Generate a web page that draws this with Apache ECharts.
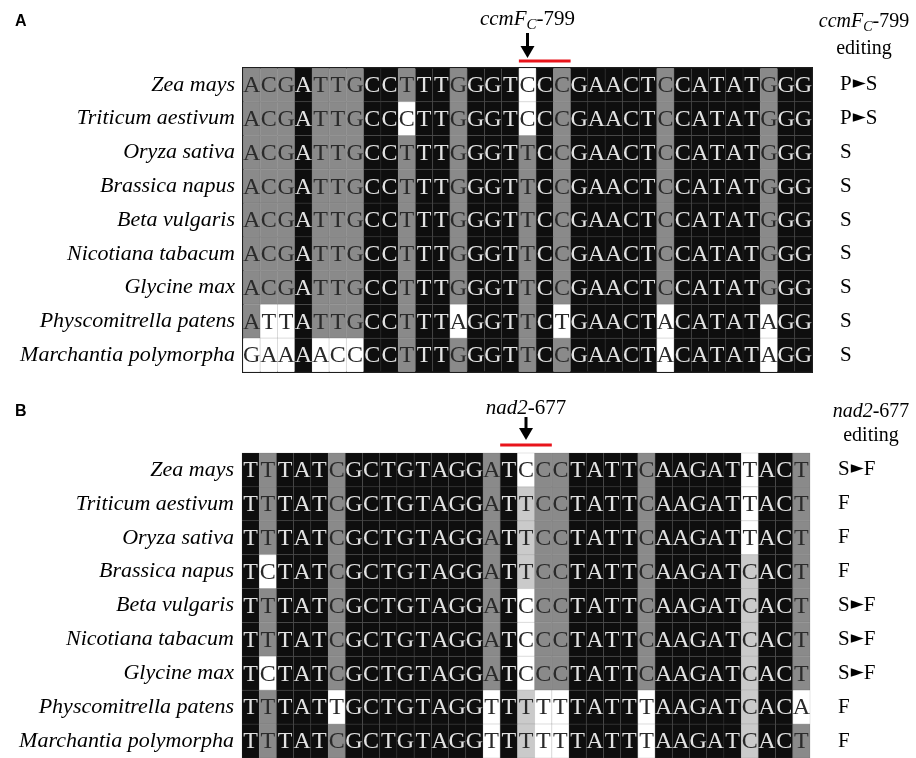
<!DOCTYPE html>
<html><head><meta charset="utf-8">
<script src="https://cdn.jsdelivr.net/npm/echarts@6/dist/echarts.min.js"></script>
<style>html,body{margin:0;padding:0;background:#fff}#c{width:916px;height:758px}</style>
</head><body><div id="c"></div>
<script>
// ---------- data ----------
const species = ['Zea mays','Triticum aestivum','Oryza sativa','Brassica napus','Beta vulgaris','Nicotiana tabacum','Glycine max','Physcomitrella patens','Marchantia polymorpha'];
const columns = [1,2,3,4,5,6,7,8,9,10,11,12,13,14,15,16,17,18,19,20,21,22,23,24,25,26,27,28,29,30,31,32,33];

// Panel A: ccmFc-799
const seqA = [
  'ACGATTGCCTTTGGGTCCCGAACTCCATATGGG',
  'ACGATTGCCCTTGGGTCCCGAACTCCATATGGG',
  'ACGATTGCCTTTGGGTTCCGAACTCCATATGGG',
  'ACGATTGCCTTTGGGTTCCGAACTCCATATGGG',
  'ACGATTGCCTTTGGGTTCCGAACTCCATATGGG',
  'ACGATTGCCTTTGGGTTCCGAACTCCATATGGG',
  'ACGATTGCCTTTGGGTTCCGAACTCCATATGGG',
  'ATTATTGCCTTTAGGTTCTGAACTACATATAGG',
  'GAAAACCCCTTTGGGTTCCGAACTACATATAGG'
];
// shading: k = black, g = grey, l = light grey, w = white
const shadeA = [
  'gggkgggkkgkkgkkkwkgkkkkkgkkkkkgkk',
  'gggkgggkkwkkgkkkwkgkkkkkgkkkkkgkk',
  'gggkgggkkgkkgkkkgkgkkkkkgkkkkkgkk',
  'gggkgggkkgkkgkkkgkgkkkkkgkkkkkgkk',
  'gggkgggkkgkkgkkkgkgkkkkkgkkkkkgkk',
  'gggkgggkkgkkgkkkgkgkkkkkgkkkkkgkk',
  'gggkgggkkgkkgkkkgkgkkkkkgkkkkkgkk',
  'gwwkgggkkgkkwkkkgkwkkkkkwkkkkkwkk',
  'wwwkwwwkkgkkgkkkgkgkkkkkwkkkkkwkk'
];
const editA = ['P>S','P>S','S','S','S','S','S','S','S'];

// Panel B: nad2-677
const seqB = [
  'TTTATCGCTGTAGGATCCCTATTCAAGATTACT',
  'TTTATCGCTGTAGGATTCCTATTCAAGATTACT',
  'TTTATCGCTGTAGGATTCCTATTCAAGATTACT',
  'TCTATCGCTGTAGGATTCCTATTCAAGATCACT',
  'TTTATCGCTGTAGGATCCCTATTCAAGATCACT',
  'TTTATCGCTGTAGGATCCCTATTCAAGATCACT',
  'TCTATCGCTGTAGGATCCCTATTCAAGATCACT',
  'TTTATTGCTGTAGGTTTTTTATTTAAGATCACA',
  'TTTATCGCTGTAGGTTTTTTATTTAAGATCACT'
];
const shadeB = [
  'kgkkkgkkkkkkkkgkwggkkkkgkkkkkwkkg',
  'kgkkkgkkkkkkkkgklggkkkkgkkkkkwkkg',
  'kgkkkgkkkkkkkkgklggkkkkgkkkkkwkkg',
  'kwkkkgkkkkkkkkgklggkkkkgkkkkklkkg',
  'kgkkkgkkkkkkkkgkwggkkkkgkkkkklkkg',
  'kgkkkgkkkkkkkkgkwggkkkkgkkkkklkkg',
  'kwkkkgkkkkkkkkgkwggkkkkgkkkkklkkg',
  'kgkkkwkkkkkkkkwklwwkkkkwkkkkklkkw',
  'kgkkkgkkkkkkkkwklwwkkkkwkkkkklkkg'
];
const editB = ['S>F','F','F','F','S>F','S>F','S>F','F','F'];

// editing-site annotation: arrow column index and red bar (column range)
const siteA = {arrowCol: 16, bar: [16, 18]};
const siteB = {arrowCol: 16, bar: [15, 17]};

// ---------- rendering ----------
const FILL = {k:'#0e0e0e', g:'#8a8a8a', l:'#cacaca', w:'#ffffff'};
const TXT  = {k:'#e2e2e2', g:'#2a2a2a', l:'#2a2a2a', w:'#2a2a2a'};
const SERIF = '"Liberation Serif","Times New Roman",serif';

function cellData(seqs){
  const d = [];
  seqs.forEach((s, r) => { for (let c = 0; c < s.length; c++) d.push([c, r]); });
  return d;
}
function cellRenderer(seqs, shades){
  return function(params, api){
    const c = api.value(0), r = api.value(1);
    const p = api.coord([c, r]);
    const s = api.size([1, 1]);
    const code = shades[r][c];
    return {type:'group', children:[
      {type:'rect', shape:{x:p[0]-s[0]/2, y:p[1]-s[1]/2, width:s[0], height:s[1]},
       style:{fill:FILL[code], stroke:'rgba(90,90,90,0.25)', lineWidth:0.6}},
      {type:'text', x:p[0], y:p[1]+1,
       style:{text:seqs[r][c], fill:TXT[code], font:'24px '+SERIF,
              align:'center', verticalAlign:'middle', textAlign:'center', textVerticalAlign:'middle'}}
    ]};
  };
}
// g = geometry offsets relative to the top edge of the first row
function siteRenderer(site, titleRich, g){
  return function(params, api){
    const p = api.coord([site.arrowCol, 0]);
    const s = api.size([1, 1]);
    const top = p[1] - s[1]/2;
    const b0 = api.coord([site.bar[0], 0])[0] - s[0]/2;
    const b1 = api.coord([site.bar[1], 0])[0] + s[0]/2;
    const x = p[0];
    return {type:'group', children:[
      {type:'line', shape:{x1:b0, y1:top-g.bar, x2:b1, y2:top-g.bar}, style:{stroke:'#e8141b', lineWidth:3}},
      {type:'rect', shape:{x:x-1.5, y:top-g.arrowTop, width:3, height:g.arrowTop-g.tip-10}, style:{fill:'#000'}},
      {type:'polygon', shape:{points:[[x-7,top-g.tip-12],[x+7,top-g.tip-12],[x,top-g.tip]]}, style:{fill:'#000'}},
      {type:'text', x:x, y:top-g.title, style:Object.assign({align:'center', verticalAlign:'middle', textAlign:'center', textVerticalAlign:'middle'}, titleRich)}
    ]};
  };
}
const headRichA = {
  text:'{i|ccmF}{s|C}{n|-799}',
  rich:{ i:{font:'italic 21px '+SERIF, fill:'#000', lineHeight:26},
         s:{font:'italic 15px '+SERIF, fill:'#000', lineHeight:14, padding:[12,0,0,0]},
         n:{font:'21px '+SERIF, fill:'#000', lineHeight:26} }
};
const headRichB = {
  text:'{i|nad2}{n|-677}',
  rich:{ i:{font:'italic 21px '+SERIF, fill:'#000', lineHeight:26},
         n:{font:'21px '+SERIF, fill:'#000', lineHeight:26} }
};

function editFormatter(v){
  const parts = v.split('>');
  if (parts.length === 2) return '{n|' + parts[0] + '}{a|\u25BA}{n|' + parts[1] + '}';
  return '{n|' + v + '}';
}
const editRich = {
  n:{fontFamily:'Liberation Serif', fontSize:21, color:'#000'},
  a:{fontFamily:'DejaVu Sans', fontSize:17, color:'#000', padding:[0,0,2,1]}
};

function yLeft(gi){
  return {type:'category', gridIndex:gi, data:species, inverse:true,
    axisLine:{show:false}, axisTick:{show:false}, splitLine:{show:false},
    axisLabel:{fontFamily:'Liberation Serif', fontStyle:'italic', fontSize:22, color:'#000', margin:8}};
}
function yRight(gi, labels, margin){
  return {type:'category', gridIndex:gi, data:labels, inverse:true, position:'right',
    axisLine:{show:false}, axisTick:{show:false}, splitLine:{show:false},
    axisLabel:{margin:margin, formatter:editFormatter, rich:editRich}};
}
function xAxis(gi){
  return {type:'category', gridIndex:gi, data:columns, show:false,
    axisLine:{show:false}, axisTick:{show:false}, splitLine:{show:false}};
}
const headStyle = {fontFamily:'Liberation Serif', fontWeight:'normal', fontSize:20, color:'#000'};

const chart = echarts.init(document.getElementById('c'), null, {renderer:'canvas'});
chart.setOption({
  animation:false,
  backgroundColor:'#fff',
  title:[
    {text:'A', left:10, top:9, textStyle:{fontFamily:'Liberation Sans', fontWeight:'bold', fontSize:16, color:'#000'}},
    {text:'B', left:10, top:399, textStyle:{fontFamily:'Liberation Sans', fontWeight:'bold', fontSize:16, color:'#000'}},
    {text:'{i|ccmF}{s|C}{n|-799}\n{n|editing}', left:859, top:3, textAlign:'center',
     textStyle:{fontWeight:'normal', rich:{
       i:Object.assign({}, headStyle, {fontStyle:'italic', lineHeight:27}),
       s:Object.assign({}, headStyle, {fontStyle:'italic', fontSize:14, lineHeight:14, padding:[12,0,0,0]}),
       n:Object.assign({}, headStyle, {lineHeight:27, align:'center'})}}},
    {text:'{i|nad2}{n|-677}\n{n|editing}', left:866, top:395, textAlign:'center',
     textStyle:{fontWeight:'normal', rich:{
       i:Object.assign({}, headStyle, {fontStyle:'italic', lineHeight:24}),
       n:Object.assign({}, headStyle, {lineHeight:24, align:'center'})}}}
  ],
  grid:[
    {left:243, top:68, width:569, height:304, show:true, borderColor:'#1a1a1a', borderWidth:2, backgroundColor:'transparent', containLabel:false},
    {left:242, top:453, width:568, height:305, containLabel:false}
  ],
  xAxis:[xAxis(0), xAxis(1)],
  yAxis:[yLeft(0), yRight(0, editA, 28), yLeft(1), yRight(1, editB, 28)],
  series:[
    {type:'custom', xAxisIndex:0, yAxisIndex:0, data:cellData(seqA), renderItem:cellRenderer(seqA, shadeA), silent:true},
    {type:'custom', xAxisIndex:1, yAxisIndex:2, data:cellData(seqB), renderItem:cellRenderer(seqB, shadeB), silent:true},
    {type:'custom', xAxisIndex:0, yAxisIndex:0, data:[[siteA.arrowCol, 0]], clip:false, z:5,
     renderItem:siteRenderer(siteA, headRichA, {bar:7, tip:10, arrowTop:35, title:49}), silent:true},
    {type:'custom', xAxisIndex:1, yAxisIndex:2, data:[[siteB.arrowCol, 0]], clip:false, z:5,
     renderItem:siteRenderer(siteB, headRichB, {bar:8, tip:13, arrowTop:36, title:45}), silent:true}
  ]
});
</script>
</body></html>
